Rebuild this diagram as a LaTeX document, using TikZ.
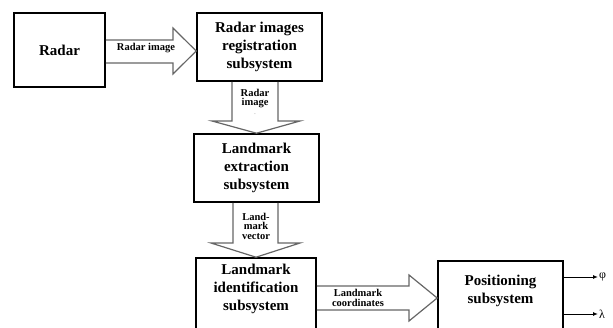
\documentclass[tikz,border=0pt]{standalone}
\usepackage{fontspec}
\setmainfont{Liberation Serif}
\usetikzlibrary{arrows.meta}

\begin{document}
\begin{tikzpicture}[x=1pt,y=-1pt,
        box/.style = {draw=black, line width=1.6pt, inner sep=0pt},
        boxtext/.style = {font=\fontsize{15}{18}\selectfont\bfseries, align=center, inner sep=0pt},
        flowtext/.style = {font=\fontsize{10.5}{9.5}\selectfont\bfseries, align=center, inner sep=0pt},
        flow/.style = {draw=black!60, line width=1.2pt, line join=miter},
        outarrow/.style = {-{Latex[length=5pt,width=4pt]}, line width=1pt},
    ]
    \useasboundingbox (0,0) rectangle (613,327);
    \clip (0,0) rectangle (613,327);
    % boxes
    \node[box,boxtext,minimum width=91pt,minimum height=74pt] (radar) at (59.5,50) {Radar};
    \node[box,boxtext,minimum width=125pt,minimum height=68pt] (reg) at (259.5,47) {Radar images\\registration\\subsystem};
    \node[box,boxtext,minimum width=125pt,minimum height=68pt] (extract) at (256.5,168) {Landmark\\extraction\\subsystem};
    \node[box,minimum width=120pt,minimum height=82pt] (ident) at (256,299) {};
    \node[boxtext] (identtxt) at (256,289) {Landmark\\identification\\subsystem};
    \node[box,minimum width=125pt,minimum height=79pt] (pos) at (500.5,300.5) {};
    \node[boxtext] (postxt) at (500.5,291) {Positioning\\subsystem};
    % Radar image
    \draw[flow] (radar.east |- 0,40) -- (173,40) -- (173,28) -- (reg.west |- 0,51) -- (173,74) -- (173,63) -- (radar.east |- 0,63);
    \node[flowtext] (lbl1) at (146,48) {Radar image};
    % Radar image (down)
    \draw[flow] (232,0 |- reg.south) -- (232,121) -- (212,121) -- (extract.north) -- (300,121) -- (278,121) -- (278,0 |- reg.south);
    \node[flowtext] (lbl2) at (255,102) {Radar\\image\\{\color{black!40}\tiny -}};
    % Landmark vector
    \draw[flow] (233,0 |- extract.south) -- (233,243) -- (211,243) -- (ident.north) -- (300,243) -- (278,243) -- (278,0 |- extract.south);
    \node[flowtext] (lbl3) at (256,226) {Land-\\mark\\vector};
    % Landmark coordinates
    \draw[flow] (ident.east |- 0,286) -- (409,286) -- (409,275) -- (pos.west |- 0,298) -- (409,321) -- (409,310) -- (ident.east |- 0,310);
    \node[flowtext] (lbl4) at (358,298) {Landmark\\coordinates};
    % outputs
    \node[font=\fontsize{12}{12}\selectfont, inner sep=1pt, anchor=west] (phi) at (598,277) {φ};
    \node[font=\fontsize{12}{12}\selectfont, inner sep=1pt, anchor=west] (lambda) at (598,314) {λ};
    \draw[outarrow] (pos.east |- phi) -- (phi.west);
    \draw[outarrow] (pos.east |- lambda) -- (lambda.west);
\end{tikzpicture}
\end{document}
